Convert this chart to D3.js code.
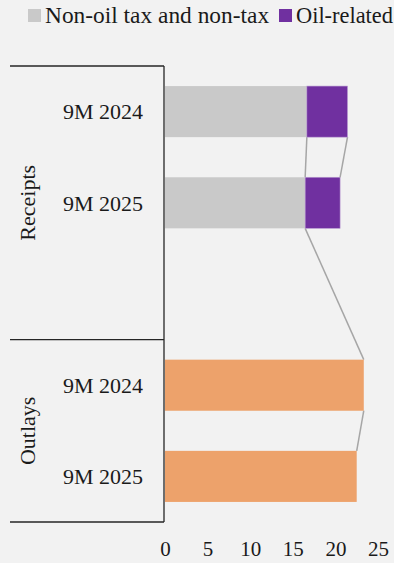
<!DOCTYPE html>
<html>
<head>
<meta charset="utf-8">
<script src="https://cdn.jsdelivr.net/npm/d3@7"></script>
<style>
  html, body { margin: 0; padding: 0; background: #f2f2f2; }
  svg { display: block; }
</style>
</head>
<body>
<div id="chart"></div>
<script>
// chart data
var categories = ["9M 2024", "9M 2025", "", "9M 2024", "9M 2025"];
var groups = ["Receipts", "Receipts", "Receipts", "Outlays", "Outlays"];
var nonOil = [16.65, 16.45, null, null, null];
var oilRelated = [4.77, 4.1, null, null, null];
var outlays = [null, null, null, 23.33, 22.5];
var xTicks = [0, 5, 10, 15, 20, 25];
var legendItems = ["Non-oil tax and non-tax", "Oil-related"];

function init() {
    var w = 394;
    var h = 563;
    var left = 165, right = 378;
    var top = 66, bottom = 522;
    var fontName = "Liberation Serif";

    var svg = d3.select("#chart")
        .append("svg")
        .attr("width", w)
        .attr("height", h);

    var xScale = d3.scaleLinear()
        .domain([0, 25])
        .range([left, right]);

    var keys = d3.range(categories.length);
    var yScale = d3.scaleBand()
        .domain(keys)
        .range([top, bottom])
        .paddingInner(0.44)
        .paddingOuter(0.22);

    // build rows
    var rows = keys.map(function(i) {
        return { i: i, nonOil: nonOil[i], oil: oilRelated[i], outlays: outlays[i] };
    });

    // connector (series) lines first so bars sit on top
    function seriesLine(getEnd) {
        var pts = rows.filter(function(d) { return getEnd(d) != null; });
        for (var k = 0; k < pts.length - 1; k++) {
            var a = pts[k], b = pts[k + 1];
            svg.append("line")
                .attr("x1", xScale(getEnd(a)))
                .attr("y1", yScale(a.i) + yScale.bandwidth())
                .attr("x2", xScale(getEnd(b)))
                .attr("y2", yScale(b.i))
                .attr("stroke", "#a6a6a6")
                .attr("stroke-width", 1.5);
        }
    }
    seriesLine(function(d) { return d.nonOil != null ? d.nonOil : d.outlays; });
    seriesLine(function(d) { return d.oil != null ? d.nonOil + d.oil : null; });

    // bars
    var receipts = rows.filter(function(d) { return d.nonOil != null; });
    svg.selectAll(".nonoil")
        .data(receipts)
        .enter().append("rect")
        .attr("class", "nonoil")
        .attr("x", xScale(0))
        .attr("y", function(d) { return yScale(d.i); })
        .attr("width", function(d) { return xScale(d.nonOil) - xScale(0); })
        .attr("height", yScale.bandwidth())
        .attr("fill", "#c9c9c9");

    svg.selectAll(".oil")
        .data(receipts)
        .enter().append("rect")
        .attr("class", "oil")
        .attr("x", function(d) { return xScale(d.nonOil); })
        .attr("y", function(d) { return yScale(d.i); })
        .attr("width", function(d) { return xScale(d.nonOil + d.oil) - xScale(d.nonOil); })
        .attr("height", yScale.bandwidth())
        .attr("fill", "#7030a0")
        .attr("stroke", "#b89ad0")
        .attr("stroke-width", 0.6);

    svg.selectAll(".outlay")
        .data(rows.filter(function(d) { return d.outlays != null; }))
        .enter().append("rect")
        .attr("class", "outlay")
        .attr("x", xScale(0))
        .attr("y", function(d) { return yScale(d.i); })
        .attr("width", function(d) { return xScale(d.outlays) - xScale(0); })
        .attr("height", yScale.bandwidth())
        .attr("fill", "#eda26b");

    // x axis, labels only
    var xAxis = d3.axisBottom(xScale).tickValues(xTicks).tickSize(0).tickPadding(0);
    var gx = svg.append("g")
        .attr("transform", "translate(0,541)")
        .call(xAxis);
    gx.select(".domain").remove();
    gx.attr("font-family", fontName).attr("font-size", 21);
    gx.selectAll("text").attr("fill", "#1a1a1a");

    // category axis with groups
    var axisColor = "#262626";
    var groupEdges = [top];
    for (var i = 1; i < groups.length; i++) {
        if (groups[i] !== groups[i - 1]) groupEdges.push(yScale(i) - yScale.step() * 0.22);
    }
    groupEdges.push(bottom);

    svg.append("line")
        .attr("x1", left - 1).attr("x2", left - 1)
        .attr("y1", top).attr("y2", bottom)
        .attr("stroke", axisColor).attr("stroke-width", 1.3);

    groupEdges.forEach(function(y) {
        svg.append("line")
            .attr("x1", 10).attr("x2", left - 1)
            .attr("y1", y).attr("y2", y)
            .attr("stroke", axisColor).attr("stroke-width", 1.3);
    });

    svg.selectAll(".catLabel")
        .data(rows.filter(function(d) { return categories[d.i] !== ""; }))
        .enter().append("text")
        .attr("class", "catLabel")
        .attr("x", 143)
        .attr("y", function(d) { return yScale(d.i) + yScale.bandwidth() / 2; })
        .attr("dy", "0.35em")
        .attr("text-anchor", "end")
        .attr("font-family", fontName)
        .attr("font-size", 22)
        .attr("fill", "#1a1a1a")
        .text(function(d) { return categories[d.i]; });

    var groupNames = Array.from(new Set(groups));
    groupNames.forEach(function(g, k) {
        var cy = (groupEdges[k] + groupEdges[k + 1]) / 2;
        svg.append("text")
            .attr("transform", "translate(27," + cy + ") rotate(-90)")
            .attr("dy", "0.35em")
            .attr("text-anchor", "middle")
            .attr("font-family", fontName)
            .attr("font-size", 22)
            .attr("fill", "#1a1a1a")
            .text(g);
    });

    // legend
    var legendColors = ["#c9c9c9", "#7030a0"];
    var legendX = [28, 279];
    var legendSize = [23.4, 22.4];
    legendItems.forEach(function(t, k) {
        svg.append("rect")
            .attr("x", legendX[k]).attr("y", 9)
            .attr("width", 13).attr("height", 13)
            .attr("fill", legendColors[k]);
        svg.append("text")
            .attr("x", legendX[k] + 17)
            .attr("y", 23)
            .attr("font-family", fontName)
            .attr("font-size", legendSize[k])
            .attr("fill", "#1a1a1a")
            .text(t);
    });
}
window.onload = init;
</script>
</body>
</html>
